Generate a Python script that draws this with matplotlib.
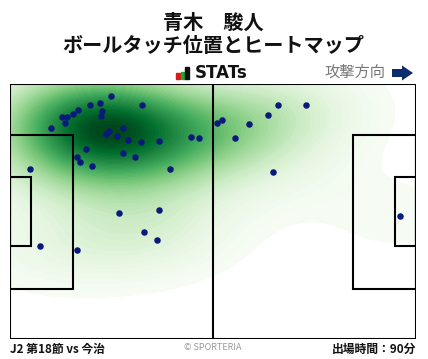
import numpy as np
import matplotlib
matplotlib.use("Agg")
import matplotlib.pyplot as plt
from matplotlib.patches import Rectangle, FancyArrow

plt.rcParams['font.family'] = ['Noto Sans CJK JP', 'DejaVu Sans']

# ball touch positions, pitch in % (x: own goal -> attacking goal, y: bottom -> top)
touch_x = [24.9, 32.6, 19.7, 22.2, 22.7, 22.5, 16.8, 15.6, 12.8, 14.1, 13.6, 10.2,
           27.9, 24.4, 23.6, 26.4, 29.1, 32.3, 36.8, 44.7, 46.6, 18.8, 27.9, 30.9,
           16.6, 17.3, 20.3, 5.0, 39.5, 26.9, 36.8, 33.1, 36.3, 7.5, 16.4,
           51.1, 52.1, 58.9, 63.6, 66.1, 73.0, 55.5, 64.9, 96.1]
touch_y = [95.3, 91.6, 91.6, 92.4, 89.3, 87.3, 89.7, 88.1, 86.9, 86.9, 84.6, 82.6,
           82.6, 81.5, 80.3, 79.5, 77.9, 77.1, 77.5, 79.1, 78.7, 74.4, 72.8, 71.3,
           71.3, 69.3, 67.7, 66.5, 66.5, 49.3, 50.5, 41.8, 38.7, 36.4, 34.8,
           84.6, 85.8, 84.2, 87.7, 91.6, 91.6, 78.7, 65.4, 48.1]

title_name = "青木　駿人"
title_sub = "ボールタッチ位置とヒートマップ"
match_label = "J2 第18節 vs 今治"
minutes_label = "出場時間：90分"

fig = plt.figure(figsize=(4.28, 3.59), dpi=100)
ax = fig.add_axes([10 / 428, 20 / 359, 406 / 428, 255 / 359])

# simple gaussian kde (scott's rule, widened)
pts = np.vstack([touch_x, touch_y])
n = pts.shape[1]
cov = np.cov(pts) * n ** (-2 / 6) * 2.0
inv = np.linalg.inv(cov)
gx, gy = np.meshgrid(np.linspace(0, 100, 200), np.linspace(0, 100, 200))
grid = np.vstack([gx.ravel(), gy.ravel()])
dens = np.zeros(grid.shape[1])
for i in range(n):
    d = grid - pts[:, i:i + 1]
    dens += np.exp(-0.5 * np.sum(d * (inv @ d), axis=0))
dens = dens.reshape(gx.shape)
dens = dens / dens.max()
ax.contourf(gx, gy, dens, levels=np.linspace(0.035, 1.0, 60), cmap="Greens", extend="max")

ax.scatter(touch_x, touch_y, s=22, color="#0a1a7a", zorder=5, linewidths=0)

# pitch lines
lw = 1.5
ax.add_patch(Rectangle((0, 0), 100, 100, fill=False, lw=lw, color="black", zorder=4))
ax.plot([50, 50], [0, 100], color="black", lw=lw, zorder=4)
ax.add_patch(Rectangle((0, 19.6), 15.5, 60.4, fill=False, lw=lw, color="black", zorder=4))
ax.add_patch(Rectangle((84.5, 19.6), 15.5, 60.4, fill=False, lw=lw, color="black", zorder=4))
ax.add_patch(Rectangle((0, 36.5), 5.2, 27, fill=False, lw=lw, color="black", zorder=4))
ax.add_patch(Rectangle((94.8, 36.5), 5.2, 27, fill=False, lw=lw, color="black", zorder=4))
ax.set_xlim(0, 100)
ax.set_ylim(0, 100)
ax.axis("off")

# header
fig.text(213 / 428, 1 - 22 / 359, title_name, ha="center", va="center",
         fontsize=14.5, fontweight="bold", color="#111111")
fig.text(213 / 428, 1 - 46 / 359, title_sub, ha="center", va="center",
         fontsize=14.5, fontweight="bold", color="#111111")

# STATs logo
for bx, bh, bc in [(176, 6, "#d7191c"), (181, 7, "#2ca02c"), (185, 12, "#111111")]:
    fig.add_artist(Rectangle((bx / 428, 1 - 79 / 359), 3.5 / 428, bh / 359,
                             transform=fig.transFigure, color=bc))
fig.text(195 / 428, 1 - 73 / 359, "STATs", ha="left", va="center",
         fontsize=12, fontweight="bold", color="#111111", family="DejaVu Sans")

fig.text(385 / 428, 1 - 72 / 359, "攻撃方向", ha="right", va="center",
         fontsize=11, color="#777777")
fig.add_artist(FancyArrow(392 / 428, 1 - 73 / 359, 10 / 428, 0, width=8 / 359,
                          head_width=15 / 359, head_length=11 / 428,
                          length_includes_head=False, transform=fig.transFigure,
                          color="#0d2a6e", lw=0))

# footer
fig.text(10 / 428, 1 - 349 / 359, match_label, ha="left", va="center",
         fontsize=8.5, fontweight="bold", color="#111111")
fig.text(213 / 428, 1 - 348 / 359, "© SPORTERIA", ha="center", va="center",
         fontsize=6.5, color="#999999")
fig.text(416 / 428, 1 - 349 / 359, minutes_label, ha="right", va="center",
         fontsize=8.5, fontweight="bold", color="#111111")

fig.savefig("out.png", dpi=100)
